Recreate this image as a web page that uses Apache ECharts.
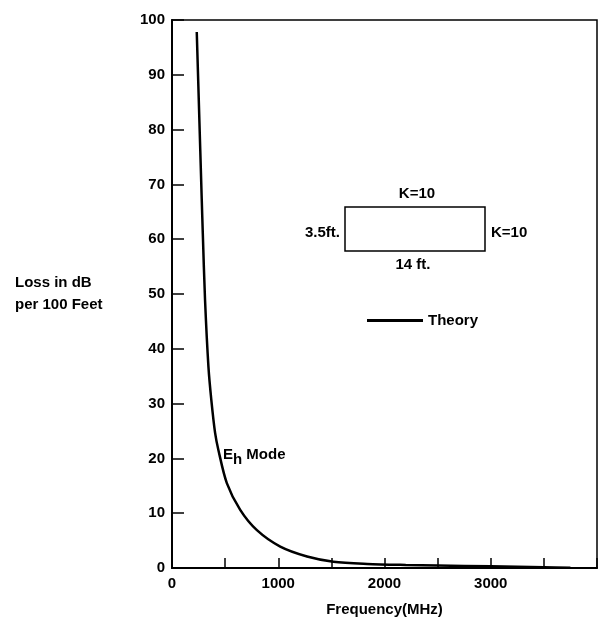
<!DOCTYPE html>
<html>
<head>
<meta charset="utf-8">
<script src="https://cdn.jsdelivr.net/npm/echarts@6/dist/echarts.min.js"></script>
<style>
  html, body { margin: 0; padding: 0; background: #fff; }
  #chart { width: 602px; height: 617px; }
</style>
</head>
<body>
<div id="chart"></div>
<script>
// values
const freqMHz = [233, 252, 280, 290, 311, 343, 370, 406, 437, 516, 642, 799, 1019, 1271, 1519, 1837, 2200, 2500, 3000, 3500, 3750];
const lossDb  = [97.8, 85.4, 67.2, 61.0, 48.9, 36.7, 30.7, 24.6, 21.5, 15.5, 10.6, 6.9, 3.9, 2.1, 1.15, 0.75, 0.55, 0.45, 0.3, 0.15, 0.05];
const xLabels = [0, 1000, 2000, 3000];

const font = '"Liberation Sans", Arial, sans-serif';
const chart = echarts.init(document.getElementById('chart'), null, {renderer: 'canvas'});

// plain annotation text, anchored at (x, y)
const txt = (x, y, text, align) => ({
    type: 'text', x, y,
    style: {text, font: 'bold 15px ' + font, fill: '#000', align: align || 'left', verticalAlign: 'middle'}
});

chart.setOption({
    animation: false,
    backgroundColor: '#fff',
    grid: {
        left: 172, right: 5, top: 20, bottom: 49,
        outerBoundsMode: 'none',
        show: true, borderColor: '#000', borderWidth: 1.5
    },
    legend: {
        left: 362, top: 308,
        itemWidth: 56, itemHeight: 3, itemGap: 4,
        icon: 'rect',
        textStyle: {fontFamily: font, fontWeight: 'bold', fontSize: 15, color: '#000'},
        data: ['Theory']
    },
    xAxis: {
        type: 'value', min: 0, max: 4000, interval: 500,
        name: 'Frequency(MHz)', nameLocation: 'middle', nameGap: 34,
        nameTextStyle: {fontFamily: font, fontWeight: 'bold', fontSize: 15, color: '#000'},
        axisLine: {lineStyle: {color: '#000', width: 2}},
        axisTick: {inside: true, length: 10, lineStyle: {color: '#000', width: 1.5}},
        splitLine: {show: false},
        axisLabel: {
            margin: 8, fontFamily: font, fontWeight: 'bold', fontSize: 15, color: '#000',
            formatter: v => xLabels.includes(v) ? String(v) : ''
        }
    },
    yAxis: {
        type: 'value', min: 0, max: 100, interval: 10,
        axisLine: {show: true, lineStyle: {color: '#000', width: 2}},
        axisTick: {show: true, inside: true, length: 12, lineStyle: {color: '#000', width: 1.5}},
        splitLine: {show: false},
        axisLabel: {margin: 7, fontFamily: font, fontWeight: 'bold', fontSize: 15, color: '#000'}
    },
    series: [{
        name: 'Theory',
        type: 'line',
        data: freqMHz.map((f, i) => [f, lossDb[i]]),
        smooth: 0.3,
        symbol: 'none',
        color: '#000',
        lineStyle: {color: '#000', width: 2.5}
    }],
    graphic: [
        {
            type: 'text', x: 15, y: 294,
            style: {
                text: 'Loss in dB\nper 100 Feet', font: 'bold 15px ' + font, fill: '#000',
                lineHeight: 22, verticalAlign: 'middle'
            }
        },
        {
            type: 'text', x: 223, y: 455,
            style: {
                text: '{e|E}{s|h}{m| Mode}',
                verticalAlign: 'middle',
                rich: {
                    e: {font: 'bold 15px ' + font, fill: '#000'},
                    s: {font: 'bold 15px ' + font, fill: '#000', padding: [9, 0, 0, 0]},
                    m: {font: 'bold 15px ' + font, fill: '#000'}
                }
            }
        },
        {
            type: 'rect', x: 345, y: 207,
            shape: {width: 140, height: 44},
            style: {fill: 'none', stroke: '#000', lineWidth: 1.5}
        },
        txt(417, 194, 'K=10', 'center'),
        txt(340, 233, '3.5ft.', 'right'),
        txt(491, 233, 'K=10'),
        txt(413, 265, '14 ft.', 'center')
    ]
});
</script>
</body>
</html>
